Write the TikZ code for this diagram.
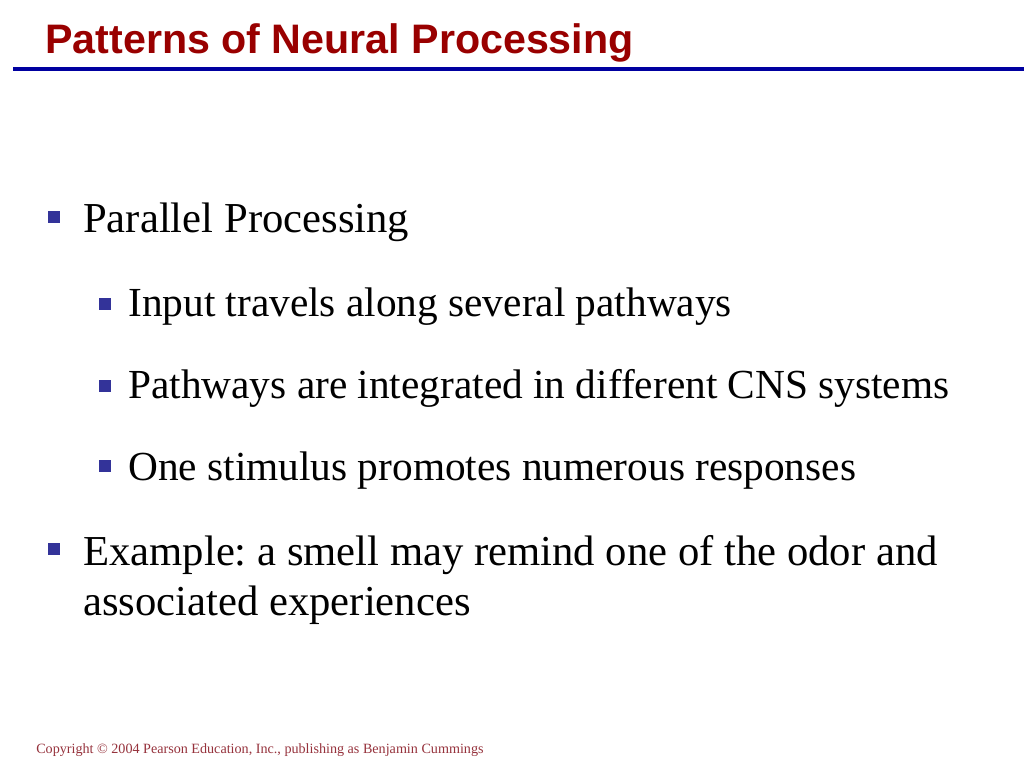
\documentclass[tikz,border=0pt]{standalone}
\usepackage{fontspec}
\setmainfont{Liberation Serif}
\setsansfont{Liberation Sans}
\frenchspacing
\definecolor{titlered}{RGB}{153,0,0}
\definecolor{ruleblue}{RGB}{0,0,160}
\definecolor{bulletblue}{RGB}{51,51,153}
\definecolor{footred}{RGB}{150,50,60}
\begin{document}
\begin{tikzpicture}[x=.75pt,y=-.75pt,
	txt/.style={anchor=base west,inner sep=0pt,font=\fontsize{32}{38}\selectfont},
	subtxt/.style={txt,font=\fontsize{31}{37}\selectfont},
	bul/.style={fill=bulletblue,inner sep=0pt,minimum size=9pt},
	subbul/.style={bul,minimum size=8.5pt},]
	\useasboundingbox[fill=white] (0,0) rectangle (1024,768);
	\node[anchor=base west,inner sep=0pt,text=titlered,
	font=\sffamily\bfseries\fontsize{30.9}{36}\selectfont] (title) at (45,53)
	{Patterns of Neural Processing};
	\draw[ruleblue,line width=3pt] (13,68.5)--(1024,68.5);
	\path
	(83,232) node[txt] (p1) {Parallel Processing}          % <<< bullet 1
	(128,316) node[subtxt] (s1) {Input travels along several pathways}
	++(0,82) node[subtxt] (s2) {Pathways are integrated in different CNS systems}
	++(0,82) node[subtxt] (s3) {One stimulus promotes numerous responses}
	(83,565) node[txt] (p2) {Example: a smell may remind one of the odor and}   % <<< bullet 2
	++(0,50) node[txt] (p2b) {associated experiences};
	\path
	(53.5,217) node[bul] (b1) {}
	(105,304) node[subbul] (b2) {}
	++(0,82) node[subbul] (b3) {}
	++(0,80) node[subbul] (b4) {}
	(54,549) node[bul] (b5) {};
	\node[anchor=base west,inner sep=0pt,text=footred,
	font=\fontsize{10.6}{12}\selectfont] (copy) at (36,753)
	{Copyright \textcopyright{} 2004 Pearson Education, Inc., publishing as Benjamin Cummings};
\end{tikzpicture}
\end{document}
